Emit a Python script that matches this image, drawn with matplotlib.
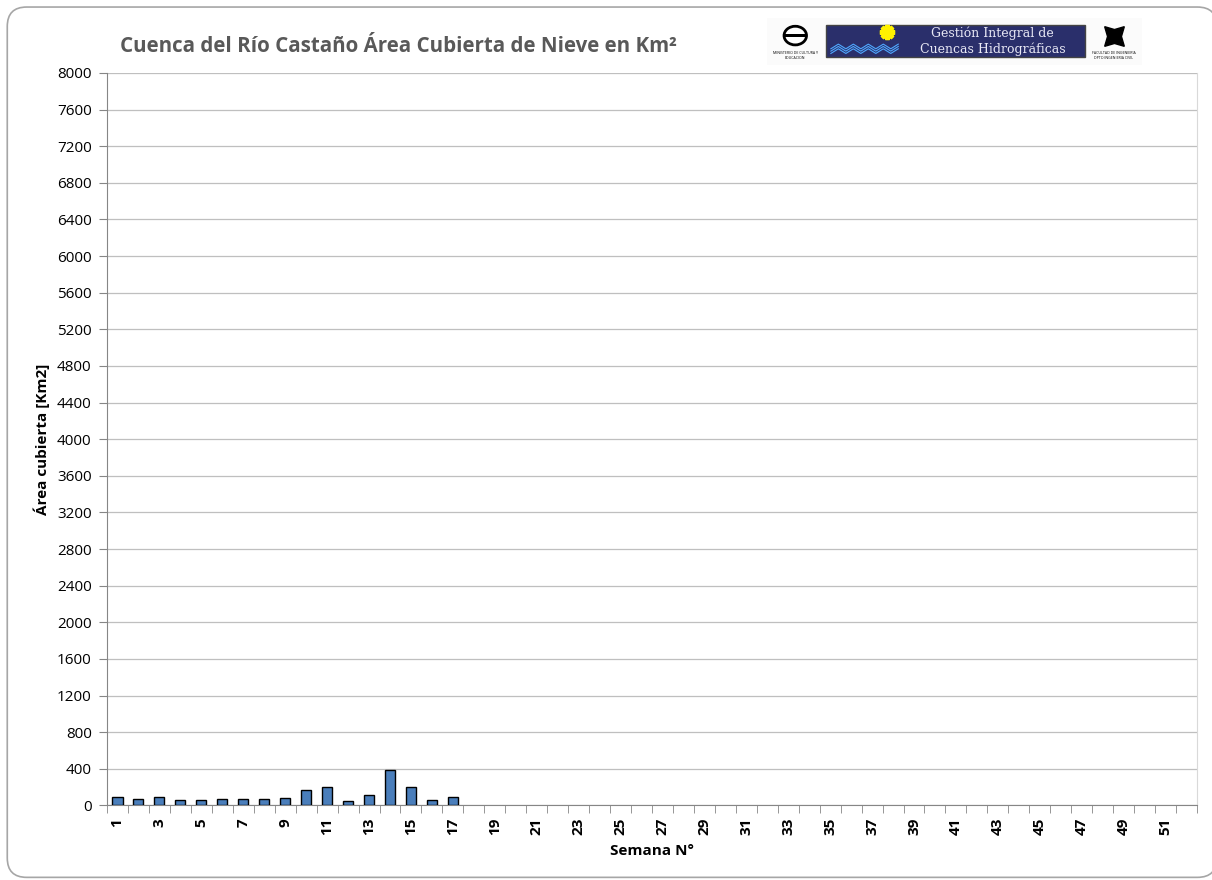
#!/usr/bin/env python3

import matplotlib
matplotlib.use("Agg")
import matplotlib.pyplot as plt
import matplotlib.ticker as ticker
from matplotlib.patches import FancyBboxPatch, Rectangle, Circle

plt.rcParams["font.family"] = ["Open Sans", "DejaVu Sans"]
plt.rcParams["font.size"] = 11

# Snow-covered area per week (Km2); only weeks 1-17 have data
weeks = list(range(1, 53))
area_km2 = [91, 69, 91, 62, 62, 69, 69, 69, 80, 164, 200, 51, 109, 385, 200, 62, 91]
y_ticks = list(range(0, 8001, 400))

title = "Cuenca del Río Castaño Área Cubierta de Nieve en Km²"
x_label = "Semana N°"
y_label = "Área cubierta [Km2]"

fig = plt.figure(figsize=(12.12, 8.8), dpi=100)

# Rounded frame around the whole chart
frame = FancyBboxPatch((0.006, 0.003), 0.998, 0.989,
                       boxstyle="round,pad=0,rounding_size=0.016",
                       transform=fig.transFigure, facecolor="white",
                       edgecolor="#A6A6A6", linewidth=1.2, zorder=-5,
                       mutation_aspect=1212 / 880)
fig.patches.append(frame)

ax = fig.add_axes([0.0883, 0.0847, 0.8993, 0.8324])
ax.set_facecolor("none")

x = list(range(len(area_km2)))
ax.bar(x, area_km2, width=0.48, color="#4A7EBB", edgecolor="black",
       linewidth=1.0, zorder=3)

ax.set_xlim(-0.5, len(weeks) - 0.5)
ax.set_ylim(0, 8000)
ax.set_yticks(y_ticks)
ax.yaxis.grid(True, color="#BFBFBF", linewidth=0.9)
ax.set_axisbelow(True)

# Category labels on odd weeks, tick marks between categories
label_pos = [i for i, w in enumerate(weeks) if w % 2 == 1]
ax.set_xticks(label_pos)
ax.set_xticklabels([str(weeks[i]) for i in label_pos], rotation=90,
                   fontweight="bold", fontsize=11)
ax.xaxis.set_minor_locator(ticker.FixedLocator(
    [i - 0.5 for i in range(len(weeks) + 1)]))
ax.tick_params(axis="x", which="major", length=0, pad=9)
ax.tick_params(axis="x", which="minor", length=6, color="#868686")
ax.tick_params(axis="y", length=6, color="#868686", labelsize=11, pad=5)

ax.spines["top"].set_visible(False)
ax.spines["right"].set_color("#D9D9D9")
ax.spines["left"].set_color("#868686")
ax.spines["bottom"].set_color("#868686")

ax.set_xlabel(x_label, fontweight="bold", fontsize=11, labelpad=6)
ax.set_ylabel(y_label, fontweight="bold", fontsize=11, labelpad=5)

fig.text(0.099, 0.941, title, fontsize=14.8, fontweight="bold",
         color="#595959", ha="left", va="baseline")

# Institutional banner, top right
lax = fig.add_axes([0.633, 0.926, 0.309, 0.053])
lax.set_xlim(0, 400)
lax.set_ylim(0, 60)
lax.axis("off")
lax.add_patch(Rectangle((0, 0), 400, 60, facecolor="#FBFBFB", edgecolor="none"))
lax.add_patch(Circle((30, 38), 12, facecolor="white", edgecolor="black", lw=2))
lax.add_patch(Rectangle((19, 36), 22, 4, facecolor="black"))
lax.text(30, 12, "MINISTERIO DE CULTURA Y\nEDUCACION", fontsize=2.5,
         ha="center", va="center")
lax.add_patch(Rectangle((63, 10), 276, 41, facecolor="#2A2F6B", edgecolor="#444"))
lax.plot([128], [42], marker=(8, 2, 0), markersize=11, color="#FFF200",
         markeredgewidth=3)
for off in (0, 3, 6):
    lax.plot([68 + 8 * k for k in range(10)],
             [18 + off + (3 if k % 2 else -3) for k in range(10)],
             color="#4FA8FF", lw=0.8)
lax.text(241, 41, "Gestión Integral de", fontsize=9, family="DejaVu Serif",
         color="#E8E8F5", ha="center", va="center")
lax.text(241, 21, "Cuencas Hidrográficas", fontsize=9, family="DejaVu Serif",
         color="#E8E8F5", ha="center", va="center")
lax.plot([370], [38], marker=(4, 1, 45), markersize=20, color="black")
lax.plot([370], [38], marker="o", markersize=5, color="black")
lax.text(370, 12, "FACULTAD DE INGENIERIA\nDPTO INGENIERIA CIVIL",
         fontsize=2.5, ha="center", va="center")

fig.savefig("out.png", dpi=100)
